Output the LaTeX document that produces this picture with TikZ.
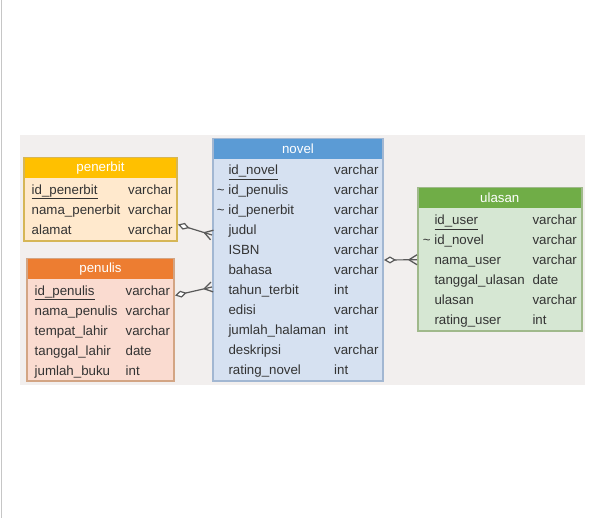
\documentclass[tikz,border=0pt]{standalone}
\usepackage{fontspec}
\setmainfont{Liberation Sans}
\usetikzlibrary{arrows.meta,decorations.markings}

\definecolor{bggray}{HTML}{F2EFEE}
\definecolor{txtgray}{HTML}{333333}
\definecolor{linkgray}{HTML}{595959}
\definecolor{pageline}{HTML}{C6C6C6}
\definecolor{pbhead}{HTML}{FFC000}
\definecolor{pbbody}{HTML}{FFE9CD}
\definecolor{pbline}{HTML}{D6B656}
\definecolor{pnhead}{HTML}{ED7D31}
\definecolor{pnbody}{HTML}{FADBD0}
\definecolor{pnline}{HTML}{D3A584}
\definecolor{nvhead}{HTML}{5B9BD5}
\definecolor{nvbody}{HTML}{D6E1F1}
\definecolor{nvline}{HTML}{A2B7D2}
\definecolor{ulhead}{HTML}{70AD47}
\definecolor{ulbody}{HTML}{D6E7D3}
\definecolor{ulline}{HTML}{A0B98B}

\tikzset{
  tablebox/.style={draw, line width=2pt, inner sep=0pt},
  titlebar/.style={inner sep=0pt, minimum height=20pt, text=white, anchor=north},
  field/.style={anchor=base west, inner sep=0pt, text=txtgray},
  link/.style={draw=linkgray, line width=1.2pt,
    {Diamond[fill=white,length=12pt,width=7pt]}-,
    postaction={decorate},
    decoration={markings, mark=at position 1 with
      {\draw[-, linkgray, line width=1.3pt] (-8pt,0) -- (0,5pt) (-8pt,0) -- (0,-5pt);}}}
}

\begin{document}
\begin{tikzpicture}[x=1pt, y=-1pt, font=\fontsize{13.3}{15}\selectfont]
\useasboundingbox (0,0) rectangle (600,518);
\draw [pageline, line width=1pt] (1,0) -- (1,518);
\fill [bggray] (20,135) rectangle (585,385);

% penerbit
\node [tablebox, draw=pbline, fill=pbbody, minimum width=153, minimum height=83] (penerbit) at (100.5,199.5) {};
\node [titlebar, fill=pbhead, minimum width=151] (penerbit-title) at ([yshift=-1pt]penerbit.north) {penerbit};
\node [field] (pb1) at (31.5,194.5) {\underline{id\_penerbit}};  \node [field] (pb1t) at (128,194.5) {varchar};
\node [field] (pb2) at (31.5,214.5) {nama\_penerbit};             \node [field] (pb2t) at (128,214.5) {varchar};
\node [field] (pb3) at (31.5,234.5) {alamat};                     \node [field] (pb3t) at (128,234.5) {varchar};

% penulis
\node [tablebox, draw=pnline, fill=pnbody, minimum width=147, minimum height=122] (penulis) at (100.5,320) {};
\node [titlebar, fill=pnhead, minimum width=145] (penulis-title) at ([yshift=-1pt]penulis.north) {penulis};
\node [field] (pn1) at (34.5,295.5) {\underline{id\_penulis}};   \node [field] (pn1t) at (125.5,295.5) {varchar};
\node [field] (pn2) at (34.5,315.5) {nama\_penulis};              \node [field] (pn2t) at (125.5,315.5) {varchar};
\node [field] (pn3) at (34.5,335.5) {tempat\_lahir};              \node [field] (pn3t) at (125.5,335.5) {varchar};
\node [field] (pn4) at (34.5,355.5) {tanggal\_lahir};             \node [field] (pn4t) at (125.5,355.5) {date};
\node [field] (pn5) at (34.5,375.5) {jumlah\_buku};               \node [field] (pn5t) at (125.5,375.5) {int};

% novel
\node [tablebox, draw=nvline, fill=nvbody, minimum width=170, minimum height=242] (novel) at (298,260) {};
\node [titlebar, fill=nvhead, minimum width=168] (novel-title) at ([yshift=-1pt]novel.north) {novel};
\node [field] (nv1) at (228.3,175) {\underline{id\_novel}};                 \node [field] (nv1t) at (334,175) {varchar};
\node [field] (nv2) at (216.7,195) {\textasciitilde\ id\_penulis};         \node [field] (nv2t) at (334,195) {varchar};
\node [field] (nv3) at (216.7,215) {\textasciitilde\ id\_penerbit};        \node [field] (nv3t) at (334,215) {varchar};
\node [field] (nv4) at (228.3,235) {judul};                                 \node [field] (nv4t) at (334,235) {varchar};
\node [field] (nv5) at (228.3,255) {ISBN};                                  \node [field] (nv5t) at (334,255) {varchar};
\node [field] (nv6) at (228.3,275) {bahasa};                                \node [field] (nv6t) at (334,275) {varchar};
\node [field] (nv7) at (228.3,295) {tahun\_terbit};                         \node [field] (nv7t) at (334,295) {int};
\node [field] (nv8) at (228.3,315) {edisi};                                 \node [field] (nv8t) at (334,315) {varchar};
\node [field] (nv9) at (228.3,335) {jumlah\_halaman};                       \node [field] (nv9t) at (334,335) {int};
\node [field] (nv10) at (228.3,355) {deskripsi};                            \node [field] (nv10t) at (334,355) {varchar};
\node [field] (nv11) at (228.3,375) {rating\_novel};                        \node [field] (nv11t) at (334,375) {int};

% ulasan
\node [tablebox, draw=ulline, fill=ulbody, minimum width=163.5, minimum height=143.5] (ulasan) at (499.75,259.75) {};
\node [titlebar, fill=ulhead, minimum width=161.5] (ulasan-title) at ([yshift=-1pt]ulasan.north) {ulasan};
\node [field] (ul1) at (434.3,225) {\underline{id\_user}};                  \node [field] (ul1t) at (532.3,225) {varchar};
\node [field] (ul2) at (422.7,245) {\textasciitilde\ id\_novel};           \node [field] (ul2t) at (532.3,245) {varchar};
\node [field] (ul3) at (434.3,265) {nama\_user};                            \node [field] (ul3t) at (532.3,265) {varchar};
\node [field] (ul4) at (434.3,285) {tanggal\_ulasan};                       \node [field] (ul4t) at (532.3,285) {date};
\node [field] (ul5) at (434.3,305) {ulasan};                                \node [field] (ul5t) at (532.3,305) {varchar};
\node [field] (ul6) at (434.3,325) {rating\_user};                          \node [field] (ul6t) at (532.3,325) {int};

% relations
\draw [link] ([yshift=-25pt]penerbit.east) -- ([yshift=25pt]novel.west);
\draw [link] ([yshift=24.5pt]penulis.east) -- ([yshift=-27pt]novel.west);
\draw [link] (novel.east) -- (ulasan.west);
\end{tikzpicture}
\end{document}
